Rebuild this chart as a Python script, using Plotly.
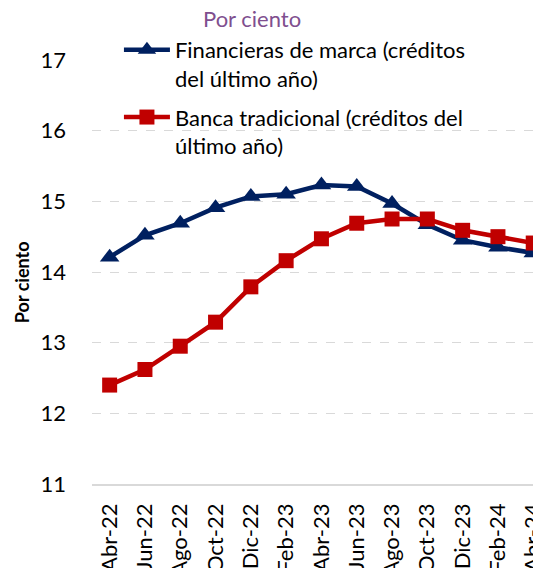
import plotly.graph_objects as go

categories = ["Abr-22", "Jun-22", "Ago-22", "Oct-22", "Dic-22", "Feb-23", "Abr-23",
              "Jun-23", "Ago-23", "Oct-23", "Dic-23", "Feb-24", "Abr-24"]
financieras = [14.21, 14.52, 14.69, 14.91, 15.07, 15.10, 15.23, 15.21, 14.97, 14.67, 14.45, 14.35, 14.27]
banca = [12.40, 12.62, 12.95, 13.29, 13.79, 14.16, 14.47, 14.69, 14.75, 14.75, 14.59, 14.50, 14.41]
y_ticks = [11, 12, 13, 14, 15, 16, 17]

FONT = "Lato"
BLUE = "#002060"
RED = "#C00000"

fig = go.Figure()
fig.add_trace(go.Scatter(
    x=categories, y=financieras, mode="lines+markers",
    name="Financieras de marca (créditos<br>del último año)",
    line=dict(color=BLUE, width=4.5),
    marker=dict(symbol="triangle-up", size=17, color=BLUE),
    legendgroup="a",
))
fig.add_trace(go.Scatter(
    x=categories, y=banca, mode="lines+markers",
    name="Banca tradicional (créditos del<br>último año)",
    line=dict(color=RED, width=4.5),
    marker=dict(symbol="square", size=15, color=RED),
    legendgroup="b",
))

fig.update_layout(
    width=533, height=560,
    margin=dict(l=84, r=0, t=52, b=84),
    paper_bgcolor="white", plot_bgcolor="white",
    font=dict(family=FONT, size=22, color="black"),
    showlegend=True,
    legend=dict(
        x=0.060, y=1.073, xanchor="left", yanchor="top",
        bgcolor="rgba(0,0,0,0)", font=dict(size=22, color="black"),
        valign="top", tracegroupgap=7, itemwidth=46,
    ),
    xaxis=dict(
        type="category", range=[-0.5, 12.22],
        showgrid=False, showline=True, linecolor="#D9D9D9", linewidth=1.5,
        tickangle=-90, ticks="", ticklabelstandoff=9, ticklabeloverflow="allow",
        tickfont=dict(size=22), automargin=False,
    ),
    yaxis=dict(
        range=[11, 17], tickvals=y_ticks,
        showgrid=True, gridcolor="#D9D9D9", griddash="dash", gridwidth=1,
        zeroline=False, showline=False, ticks="", ticklabelstandoff=25,
        tickfont=dict(size=22), automargin=False,
    ),
    annotations=[
        dict(text="Por ciento", xref="paper", yref="paper", x=0.356, y=1.099,
             xanchor="center", yanchor="middle", showarrow=False,
             font=dict(size=22, color="#7F4F8F", family=FONT)),
        dict(text="<b>Por ciento</b>", xref="paper", yref="paper", x=-0.156, y=0.476,
             xanchor="center", yanchor="middle", showarrow=False, textangle=-90,
             font=dict(size=18, color="black", family=FONT)),
    ],
)

fig.write_html("out.html")
